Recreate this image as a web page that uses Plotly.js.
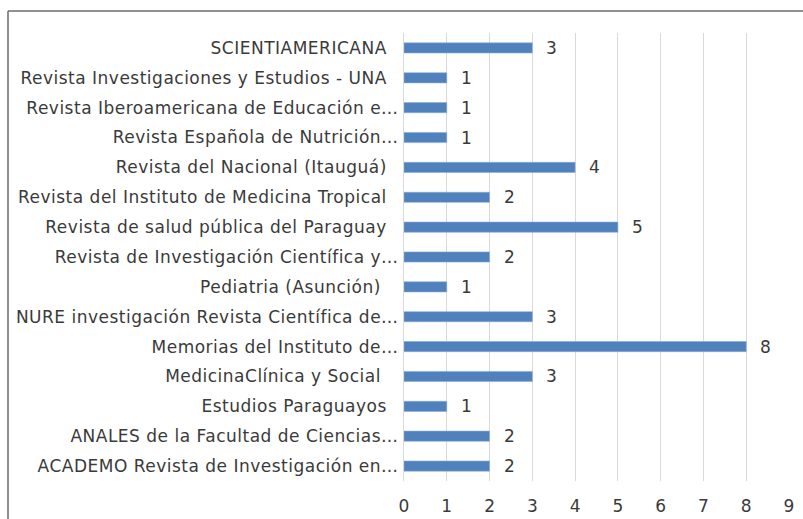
<!DOCTYPE html>
<html>
<head>
<meta charset="utf-8">
<script src="https://cdn.plot.ly/plotly-3.0.1.min.js"></script>
<style>
html,body{margin:0;padding:0;background:#fff;}
#chart{width:803px;height:519px;}
#chart .ytick text{letter-spacing:0.5px;}
</style>
</head>
<body>
<div id="chart"></div>
<script>
// Categories, top to bottom as shown
const journals = [
  "SCIENTIAMERICANA\u00a0\u00a0",
  "Revista Investigaciones y Estudios - UNA\u00a0\u00a0",
  "Revista Iberoamericana de Educación e…",
  "Revista Española de Nutrición…",
  "Revista del Nacional (Itauguá)\u00a0\u00a0",
  "Revista del Instituto de Medicina Tropical\u00a0\u00a0",
  "Revista de salud pública del Paraguay\u00a0\u00a0",
  "Revista de Investigación Científica y…",
  "Pediatria (Asunción)\u00a0\u00a0\u00a0",
  "NURE investigación Revista Científica de…",
  "Memorias del Instituto de…",
  "MedicinaClínica y Social\u00a0\u00a0\u00a0",
  "Estudios Paraguayos\u00a0\u00a0",
  "ANALES de la Facultad de Ciencias…",
  "ACADEMO Revista de Investigación en…"
];
const counts = [3, 1, 1, 1, 4, 2, 5, 2, 1, 3, 8, 3, 1, 2, 2];
const xTicks = [0, 1, 2, 3, 4, 5, 6, 7, 8, 9];

const M = {l: 404, r: 14, t: 33, b: 38};
const W = 803, H = 519;
const pw = W - M.l - M.r, ph = H - M.t - M.b;
const px = v => (v - M.l) / pw;
const py = v => (H - M.b - v) / ph;

const textFont = {family: "DejaVu Sans, Verdana, sans-serif", size: 17, color: "#3a3a3a"};

const trace = {
  type: "bar",
  orientation: "h",
  y: journals,
  x: counts,
  width: 0.34,
  marker: {color: "#4f81bd", line: {color: "#8eaad6", width: 0.6}},
  hoverinfo: "x+y"
};

const annotations = counts.map((v, i) => ({
  x: v, y: journals[i], xref: "x", yref: "y",
  text: String(v), showarrow: false,
  xanchor: "left", xshift: 12,
  font: textFont
}));

const layout = {
  width: W, height: H,
  margin: M,
  paper_bgcolor: "#fff", plot_bgcolor: "#fff",
  showlegend: false,
  bargap: 0.66,
  xaxis: {
    range: [0, 9], tickvals: xTicks, ticktext: xTicks.map(String),
    showgrid: true, gridcolor: "#d9d9d9", gridwidth: 1,
    zeroline: false, showline: false, ticks: "",
    tickfont: textFont, ticklabelstandoff: 13, fixedrange: true
  },
  yaxis: {
    type: "category", autorange: "reversed",
    showgrid: false, zeroline: false, showline: true, linecolor: "#d9d9d9", linewidth: 1,
    ticks: "", tickfont: textFont, ticklabelstandoff: 1, fixedrange: true
  },
  annotations: annotations,
  shapes: [
    {type: "line", xref: "paper", yref: "paper", x0: px(8), x1: px(8), y0: py(11), y1: py(525),
     line: {color: "#6b6b6b", width: 1.5}},
    {type: "line", xref: "paper", yref: "paper", x0: px(8), x1: px(810), y0: py(11), y1: py(11),
     line: {color: "#6b6b6b", width: 1.5}}
  ]
};

Plotly.newPlot("chart", [trace], layout, {displayModeBar: false, staticPlot: true});
</script>
</body>
</html>
